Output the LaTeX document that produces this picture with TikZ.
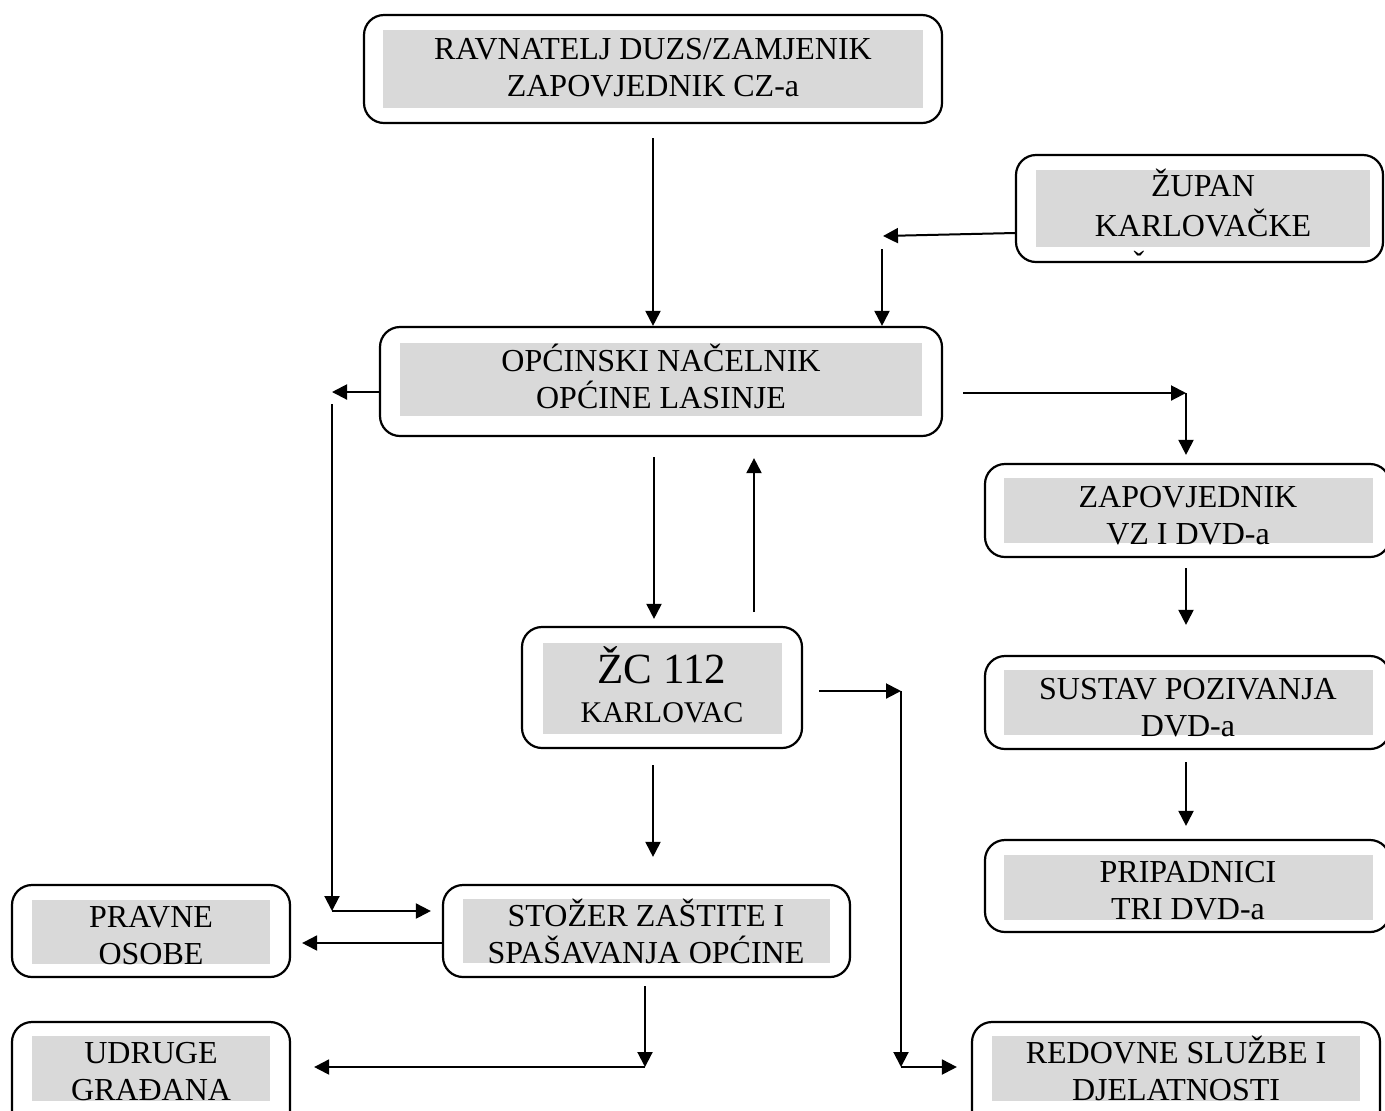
\documentclass[tikz,border=0pt]{standalone}
\usepackage{fontspec}
\setmainfont{Liberation Serif}
\usetikzlibrary{arrows.meta,fit}
\definecolor{siva}{RGB}{217,217,217}
\tikzstyle{okvir} = [draw, rounded corners=10pt, line width=1.1pt, inner sep=0pt]
\tikzstyle{sjena} = [fill=siva]
\tikzstyle{tekst} = [align=center, anchor=base, inner sep=0pt, font=\fontsize{16}{18.5}\selectfont]

\begin{document}
\begin{tikzpicture}[x=0.5pt, y=-0.5pt, >={Triangle[length=7.5pt,width=7.5pt]}, line width=1pt]

  % Page size first, the right column runs off the page.
  \useasboundingbox (0,0) rectangle (1385,1110);
  \clip (0,0) rectangle (1385,1110);

  % grey fields behind the text
  \fill[sjena] (383,30) rectangle (923,108);
  \fill[sjena] (1036,170) rectangle (1370,247);
  \fill[sjena] (400,343) rectangle (922,416);
  \fill[sjena] (1004,478) rectangle (1373,543);
  \fill[sjena] (1004,670) rectangle (1373,735);
  \fill[sjena] (1004,855) rectangle (1373,920);
  \fill[sjena] (543,643) rectangle (782,734);
  \fill[sjena] (463,899) rectangle (830,963);
  \fill[sjena] (32,900) rectangle (270,964);
  \fill[sjena] (32,1036) rectangle (270,1101);
  \fill[sjena] (992,1036) rectangle (1360,1101);

    \node [okvir, fit={(364,15) (942,123)}] (ravnatelj) {};
    \node [okvir, fit={(1016,155) (1383,262)}] (zupan) {};
    \node [okvir, fit={(380,327) (942,436)}] (nacelnik) {};
    \node [okvir, fit={(985,464) (1390,557)}] (zapovjednik) {};
    \node [okvir, fit={(985,656) (1390,749)}] (sustav) {};
    \node [okvir, fit={(985,840) (1390,932)}] (pripadnici) {};
    \node [okvir, fit={(522,627) (802,748)}] (zc) {};
    \node [okvir, fit={(443,885) (850,977)}] (stozer) {};
    \node [okvir, fit={(12,885) (290,977)}] (pravne) {};
    \node [okvir, fit={(12,1022) (290,1140)}] (udruge) {};
    \node [okvir, fit={(972,1022) (1380,1140)}] (redovne) {};

% text sits on the baseline of its last line
    \node [tekst] (ravnateljt) at (653,96) {RAVNATELJ DUZS/ZAMJENIK\\ZAPOVJEDNIK CZ-a};
    \node [tekst, font=\fontsize{16}{20}\selectfont] (zupant) at (1203,236) {ŽUPAN\\KARLOVAČKE};
    \node [tekst] (zupanc) at (1139,273) {ˇ};
    \node [tekst] (nacelnikt) at (661,408) {OPĆINSKI NAČELNIK\\OPĆINE LASINJE};
    \node [tekst] (zapovjednikt) at (1188,544) {ZAPOVJEDNIK\\VZ I DVD-a};
    \node [tekst] (sustavt) at (1188,736) {SUSTAV POZIVANJA\\DVD-a};
    \node [tekst] (pripadnicit) at (1188,919) {PRIPADNICI\\TRI DVD-a};
    \node [tekst, font=\fontsize{15}{19.5}\selectfont] (zct) at (662,722) {{\fontsize{21.5}{22}\selectfont ŽC 112}\\KARLOVAC};
    \node [tekst] (stozert) at (646,963) {STOŽER ZAŠTITE I\\SPAŠAVANJA OPĆINE};
    \node [tekst] (pravnet) at (151,964) {PRAVNE\\OSOBE};
    \node [tekst] (udruget) at (151,1100) {UDRUGE\\GRAĐANA};
    \node [tekst] (redovnet) at (1176,1100) {REDOVNE SLUŽBE I\\DJELATNOSTI};

% free ends of the connectors
    \coordinate (ravnateljdolje) at (653,138);
    \coordinate (zupanvrh) at (883,236);
    \coordinate (zupandolje) at (882,249);
    \coordinate (lijevovrh) at (332,392);
    \coordinate (lijevo) at (332,404);
    \coordinate (lijevodolje) at (332,911);
    \coordinate (desno) at (963,393);
    \coordinate (desnovrh) at (1186,393);
    \coordinate (nacelnikdolje) at (654,457);
    \coordinate (zcgore) at (754,612);
    \coordinate (zcdesno) at (819,691);
    \coordinate (sredina) at (901,691);
    \coordinate (sredinadolje) at (901,1067);
    \coordinate (zcdolje) at (653,765);
    \coordinate (stozerdolje) at (645,986);
    \coordinate (stozerkut) at (645,1067);
    \coordinate (zapdolje) at (1186,568);
    \coordinate (sustavdolje) at (1186,762);

    \draw [->] (ravnateljdolje) -- (ravnateljdolje |- nacelnik.north);
    \draw [->] (zupan.west |- 0,233) -- (zupanvrh);
    \draw [->] (zupandolje) -- (zupandolje |- nacelnik.north);
    \draw [->] (nacelnik.west |- 0,392) -- (lijevovrh);
    \draw [->] (lijevo) -- (lijevodolje);
    \draw [->] (lijevodolje) -- ([xshift=-5.5pt]lijevodolje -| stozer.west);
    \draw [->] (desno) -- (desnovrh);
    \draw [->] (desnovrh) -- ([yshift=4pt]desnovrh |- zapovjednik.north);
    \draw [->] (nacelnikdolje) -- ([yshift=3.5pt]nacelnikdolje |- zc.north);
    \draw [->] (zcgore) -- ([yshift=-10.5pt]zcgore |- nacelnik.south);
    \draw [->] (zcdesno) -- (sredina);
    \draw [->] (sredina) -- (sredinadolje);
    \draw [->] (sredinadolje) -- ([xshift=-7pt]sredinadolje -| redovne.west);
    \draw [->] (zcdolje) -- ([yshift=13.5pt]zcdolje |- stozer.north);
    \draw [->] (stozer.west |- 0,943) -- ([xshift=5.5pt]pravne.east |- 0,943);
    \draw [->] (stozerdolje) -- (stozerkut);
    \draw [->] (stozerkut) -- ([xshift=11.5pt]stozerkut -| udruge.east);
    \draw [->] (zapdolje) -- ([yshift=15pt]zapdolje |- sustav.north);
    \draw [->] (sustavdolje) -- ([yshift=6.5pt]sustavdolje |- pripadnici.north);

  \end{tikzpicture}
\end{document}
